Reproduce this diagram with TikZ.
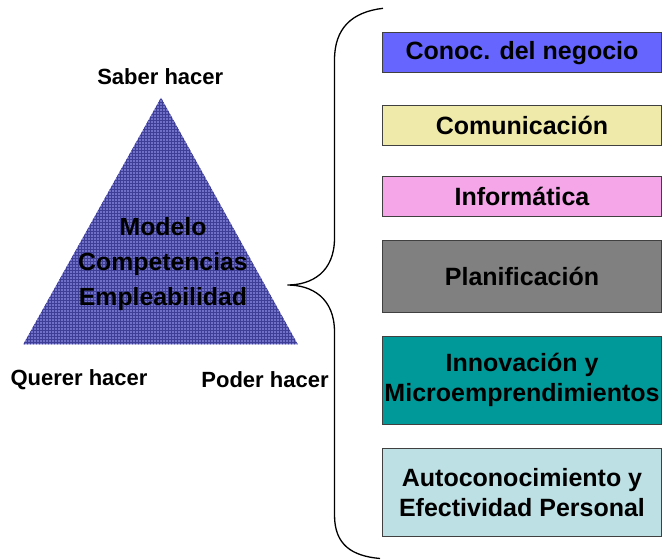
\documentclass[tikz,border=0pt]{standalone}
\usepackage{fontspec}
\setmainfont{Liberation Sans}
\definecolor{triazul}{RGB}{112,112,200}
\definecolor{trirejilla}{RGB}{62,62,150}
\definecolor{negocio}{RGB}{102,102,255}
\definecolor{comunica}{RGB}{240,234,170}
\definecolor{informa}{RGB}{244,166,232}
\definecolor{planifica}{RGB}{128,128,128}
\definecolor{innova}{RGB}{0,153,153}
\definecolor{autocono}{RGB}{188,224,228}

\begin{document}
\begin{tikzpicture}[x=1pt,y=-1pt,
    caja/.style={draw=black!75, line width=0.8pt, minimum width=279.4pt, inner sep=0pt, align=center, font=\bfseries\fontsize{25}{30}\selectfont},
    etiqueta/.style={font=\bfseries\fontsize{22}{26}\selectfont}]
    % lienzo
    \useasboundingbox (0,0) rectangle (663,559);

    % triangulo
    \coordinate (apex) at (161,97.7);
    \coordinate (izq) at (23.3,344.3);
    \coordinate (der) at (297.7,344.3);
    \fill[triazul] (apex) -- (izq) -- (der) -- cycle;
    \begin{scope}
        \clip (apex) -- (izq) -- (der) -- cycle;
        \draw[trirejilla, line width=0.35pt, step=3pt] (20,346) grid (300,95);
    \end{scope}

    \node (modelo) at (163,264) [align=center, font=\bfseries\fontsize{24.8}{35}\selectfont] {Modelo\\Competencias\\Empleabilidad};

    \node (saber) at (160.3,76.7) [etiqueta] {Saber hacer};
    \node (querer) at (79,380) [etiqueta] {Querer hacer};
    \node (poder) at (265,380) [etiqueta] {Poder hacer};

    % cajas
    \node (negocio) at (522,52.7) [caja, fill=negocio, minimum height=40pt] {Conoc. del negocio};
    \node (comunica) at (522,125) [caja, fill=comunica, minimum height=40pt] {Comunicación};
    \node (informa) at (522,196.7) [caja, fill=informa, minimum height=40pt] {Informática};
    \node (planifica) at (522,276.2) [caja, fill=planifica, minimum height=72.3pt] {Planificación};
    \node (innova) at (522,380.3) [caja, fill=innova, minimum height=87.3pt] {Innovación y\\Microemprendimientos};
    \node (autocono) at (522,492.2) [caja, fill=autocono, minimum height=87.7pt] {Autoconocimiento y\\Efectividad Personal};

    % llave
    \coordinate (punta) at (287.3,285);
    \draw[line width=1.3pt] (383,8.3) .. controls (352,12) and (334.5,28) .. (334.5,60) -- (334.5,238) .. controls (334.5,272) and (312,285) .. (punta) .. controls (312,285) and (334.5,298) .. (334.5,332) -- (334.5,515) .. controls (334.5,545) and (352,556) .. (380,558.5);

\end{tikzpicture}
\end{document}
